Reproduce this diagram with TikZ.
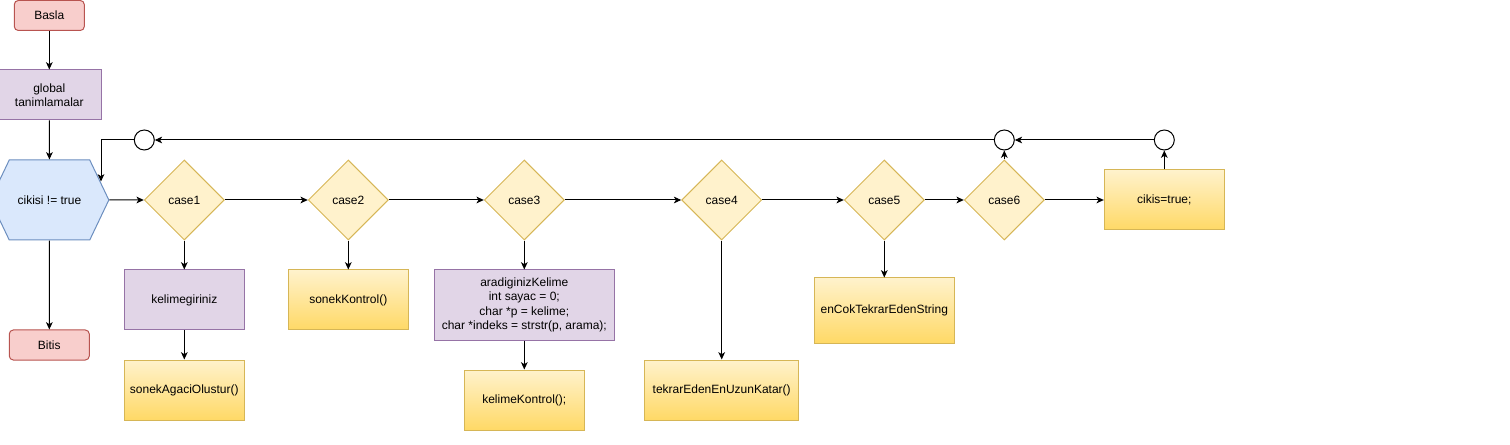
\documentclass[tikz,border=0pt]{standalone}
\usepackage{fontspec}
\setmainfont{Liberation Sans}
\usetikzlibrary{shapes.geometric, shapes.symbols, arrows.meta}

\definecolor{redfill}{HTML}{F8CECC}
\definecolor{reddraw}{HTML}{B85450}
\definecolor{purplefill}{HTML}{E1D5E7}
\definecolor{purpledraw}{HTML}{9673A6}
\definecolor{bluefill}{HTML}{DAE8FC}
\definecolor{bluedraw}{HTML}{6C8EBF}
\definecolor{yellowtop}{HTML}{FFF2CC}
\definecolor{yellowbot}{HTML}{FFD966}
\definecolor{yellowdraw}{HTML}{D6B656}

\begin{document}
\begin{tikzpicture}[x=0.75pt, y=-0.75pt,
  base/.style={draw, font=\fontsize{9}{10.8}\selectfont, align=center,
               inner sep=0pt, line width=0.75pt},
  terminal/.style={base, rectangle, rounded corners=3pt, fill=redfill, draw=reddraw,
                   minimum width=52.5pt, minimum height=22.5pt},
  process/.style={base, rectangle, fill=purplefill, draw=purpledraw,
                  minimum width=90pt, minimum height=45pt},
  action/.style={base, rectangle, top color=yellowtop, bottom color=yellowbot,
                 draw=yellowdraw, minimum width=90pt, minimum height=45pt},
  decision/.style={base, diamond, aspect=1, fill=yellowtop, draw=yellowdraw,
                   minimum width=60pt, minimum height=60pt},
  loopnode/.style={base, signal, signal to=west and east, signal pointer angle=129,
                   fill=bluefill, draw=bluedraw, minimum width=89pt, minimum height=60pt},
  junction/.style={circle, draw, fill=white, line width=0.75pt, minimum size=15pt, inner sep=0pt},
  arrow/.style={-{Stealth[length=5.5pt, width=5pt, inset=1.5pt]}, line width=0.75pt}
]
\useasboundingbox (0,0) rectangle (1510,445);

%% Main column
\node[terminal] (basla) at (49.3,15.5) {Basla};
\node[process, minimum width=78.75pt, minimum height=37.5pt] (global) at (49.3,95) {global\\tanimlamalar};
\node[loopnode] (loop) at (49.5,200) {cikisi != true};
\node[terminal, minimum width=60pt] (bitis) at (49.3,345) {Bitis};

%% Cases
\node[decision] (case1) at (184.3,200) {case1};
\node[decision] (case2) at (348.3,200) {case2};
\node[decision] (case3) at (524.3,200) {case3};
\node[decision] (case4) at (721.7,200) {case4};
\node[decision] (case5) at (884.3,200) {case5};
\node[decision] (case6) at (1004.3,200) {case6};
\node[action] (cikis) at (1164.3,200) {cikis=true;};

%% Loop-back junctions
\node[junction] (j1) at (144.3,140) {};
\node[junction] (j2) at (1004.3,140) {};
\node[junction] (j3) at (1164.3,140) {};
\coordinate (loopin) at (101,181.5);

%% Case bodies
\node[process] (kelime) at (184.3,300) {kelimegiriniz};
\node[action] (agac) at (184.3,390) {sonekAgaciOlustur()};
\node[action] (sonek) at (348.3,300) {sonekKontrol()};
\node[process, minimum width=135pt, minimum height=52.5pt] (arama) at (524.3,305)
  {aradiginizKelime\\int sayac = 0;\\char *p = kelime;\\char *indeks = strstr(p, arama);};
\node[action] (kontrol) at (524.3,400) {kelimeKontrol();};
\node[action, minimum width=115.5pt] (uzun) at (721.7,390) {tekrarEdenEnUzunKatar()};
\node[action, minimum width=105pt, minimum height=48.75pt] (encok) at (884.3,310.5) {enCokTekrarEdenString};

%% Flow
\draw[arrow] (basla) -- (global);
\draw[arrow] (global) -- (loop);
\draw[arrow] (loop) -- (bitis);
\draw[arrow] (loop) -- (case1);
\draw[arrow] (case1) -- (case2);
\draw[arrow] (case2) -- (case3);
\draw[arrow] (case3) -- (case4);
\draw[arrow] (case4) -- (case5);
\draw[arrow] (case5) -- (case6);
\draw[arrow] (case6) -- (cikis);

\draw[arrow] (case1) -- (kelime);
\draw[arrow] (kelime) -- (agac);
\draw[arrow] (case2) -- (sonek);
\draw[arrow] (case3) -- (arama);
\draw[arrow] (arama) -- (kontrol);
\draw[arrow] (case4) -- (uzun);
\draw[arrow] (case5) -- (encok);

%% Loop back
\draw[arrow] (cikis) -- (j3);
\draw[arrow] (j3) -- (j2);
\draw[arrow] (case6) -- (j2);
\draw[arrow] (j2) -- (j1);
\draw[arrow] (j1) -| (loopin);
\end{tikzpicture}
\end{document}
